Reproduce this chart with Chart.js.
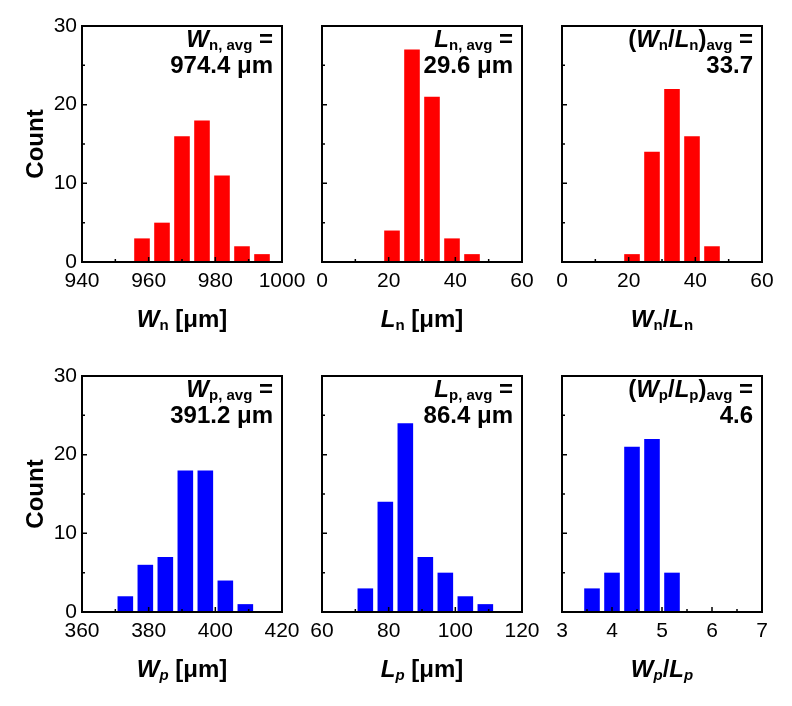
<!DOCTYPE html>
<html>
<head>
<meta charset="utf-8">
<script src="https://cdn.jsdelivr.net/npm/chart.js@4.4.0/dist/chart.umd.min.js"></script>
<style>
  body { margin: 0; background: #fff; }
  #wrap { position: relative; width: 792px; height: 706px; }
  #wrap canvas { position: absolute; left: 0; top: 0; }
</style>
</head>
<body>
<div id="wrap">
  <canvas id="c1" width="792" height="706"></canvas>
  <canvas id="c2" width="792" height="706"></canvas>
  <canvas id="c3" width="792" height="706"></canvas>
  <canvas id="c4" width="792" height="706"></canvas>
  <canvas id="c5" width="792" height="706"></canvas>
  <canvas id="c6" width="792" height="706"></canvas>
</div>
<script>
// bin centres and counts
const wnBins = [958, 964, 970, 976, 982, 988, 994];
const wnCounts = [3, 5, 16, 18, 11, 2, 1];
const lnBins = [21, 27, 33, 39, 45];
const lnCounts = [4, 27, 21, 3, 1];
const wlnBins = [21, 27, 33, 39, 45];
const wlnCounts = [1, 14, 22, 16, 2];
const wpBins = [373, 379, 385, 391, 397, 403, 409];
const wpCounts = [2, 6, 7, 18, 18, 4, 1];
const lpBins = [73, 79, 85, 91, 97, 103, 109];
const lpCounts = [3, 14, 24, 7, 5, 2, 1];
const wlpBins = [3.6, 4.0, 4.4, 4.8, 5.2];
const wlpCounts = [3, 5, 21, 22, 5];

// axis ranges: min, max, step
const wnRange = [940, 1000, 20];
const lnRange = [0, 60, 20];
const wlnRange = [0, 60, 20];
const wpRange = [360, 420, 20];
const lpRange = [60, 120, 20];
const wlpRange = [3, 7, 1];
const countRange = [0, 30, 10];

const RED = '#ff0000';
const BLUE = '#0000ff';
const FAMILY = '"Liberation Sans", Arial, sans-serif';
const FONTS = {
  b: 'bold 24px ' + FAMILY,
  bi: 'italic bold 24px ' + FAMILY,
  s: 'bold 15px ' + FAMILY,
  si: 'italic bold 15px ' + FAMILY
};
const Y_AXIS_W = 60;  // room kept for the count labels
const X_AXIS_H = 40;  // room kept for the x labels

// draw a run of mixed-style text pieces
function drawRich(ctx, parts, x, y, align) {
  let total = 0;
  parts.forEach(p => { ctx.font = FONTS[p[1]]; total += ctx.measureText(p[0]).width; });
  let cx = x;
  if (align === 'right') cx = x - total;
  if (align === 'center') cx = x - total / 2;
  ctx.textAlign = 'left';
  ctx.textBaseline = 'alphabetic';
  parts.forEach(p => {
    ctx.font = FONTS[p[1]];
    const dy = p[1][0] === 's' ? 3 : 0;
    ctx.fillText(p[0], cx, y + dy);
    cx += ctx.measureText(p[0]).width;
  });
}

// frame, inward ticks and texts for one panel
const panelPlugin = {
  id: 'panel',
  afterDatasetsDraw(chart, args, opts) {
    const { ctx, chartArea: a, scales: { x, y } } = chart;
    ctx.save();
    ctx.strokeStyle = '#000';
    ctx.lineWidth = 2;
    ctx.strokeRect(a.left, a.top, a.right - a.left, a.bottom - a.top);

    ctx.lineWidth = 1.5;
    ctx.beginPath();
    const xv = x.ticks.map(t => t.value);
    const xstep = xv[1] - xv[0];
    xv.forEach((v, i) => {
      const px = x.getPixelForValue(v);
      ctx.moveTo(px, a.bottom); ctx.lineTo(px, a.bottom - 5);
      if (i < xv.length - 1) {
        const mx = x.getPixelForValue(v + xstep / 2);
        ctx.moveTo(mx, a.bottom); ctx.lineTo(mx, a.bottom - 3);
      }
    });
    const yv = y.ticks.map(t => t.value);
    const ystep = yv[1] - yv[0];
    yv.forEach((v, i) => {
      const py = y.getPixelForValue(v);
      ctx.moveTo(a.left, py); ctx.lineTo(a.left + 5, py);
      if (i < yv.length - 1) {
        const my = y.getPixelForValue(v + ystep / 2);
        ctx.moveTo(a.left, my); ctx.lineTo(a.left + 3, my);
      }
    });
    ctx.stroke();

    ctx.fillStyle = '#000';
    drawRich(ctx, opts.note1, a.right - 9, a.top + 21, 'right');
    drawRich(ctx, opts.note2, a.right - 9, a.top + 47, 'right');
    drawRich(ctx, opts.title, (a.left + a.right) / 2, a.bottom + 65, 'center');

    if (opts.showCount) {
      ctx.translate(a.left - 46, (a.top + a.bottom) / 2);
      ctx.rotate(-Math.PI / 2);
      ctx.font = FONTS.b;
      ctx.textAlign = 'center';
      ctx.textBaseline = 'middle';
      ctx.fillText('Count', 0, 0);
    }
    ctx.restore();
  }
};

const panels = [
  { id: 'c1', bins: wnBins, counts: wnCounts, range: wnRange, color: RED, box: [82, 26, 282, 262], showY: true,
    note1: [['W', 'bi'], ['n, avg', 's'], [' =', 'b']], note2: [['974.4 \u03bcm', 'b']],
    title: [['W', 'bi'], ['n', 's'], [' [\u03bcm]', 'b']] },
  { id: 'c2', bins: lnBins, counts: lnCounts, range: lnRange, color: RED, box: [322, 26, 522, 262], showY: false,
    note1: [['L', 'bi'], ['n, avg', 's'], [' =', 'b']], note2: [['29.6 \u03bcm', 'b']],
    title: [['L', 'bi'], ['n', 's'], [' [\u03bcm]', 'b']] },
  { id: 'c3', bins: wlnBins, counts: wlnCounts, range: wlnRange, color: RED, box: [562, 26, 762, 262], showY: false,
    note1: [['(', 'b'], ['W', 'bi'], ['n', 's'], ['/', 'b'], ['L', 'bi'], ['n', 's'], [')', 'b'], ['avg', 's'], [' =', 'b']],
    note2: [['33.7', 'b']],
    title: [['W', 'bi'], ['n', 's'], ['/', 'b'], ['L', 'bi'], ['n', 's']] },
  { id: 'c4', bins: wpBins, counts: wpCounts, range: wpRange, color: BLUE, box: [82, 376, 282, 612], showY: true,
    note1: [['W', 'bi'], ['p, avg', 's'], [' =', 'b']], note2: [['391.2 \u03bcm', 'b']],
    title: [['W', 'bi'], ['p', 'si'], [' [\u03bcm]', 'b']] },
  { id: 'c5', bins: lpBins, counts: lpCounts, range: lpRange, color: BLUE, box: [322, 376, 522, 612], showY: false,
    note1: [['L', 'bi'], ['p, avg', 's'], [' =', 'b']], note2: [['86.4 \u03bcm', 'b']],
    title: [['L', 'bi'], ['p', 'si'], [' [\u03bcm]', 'b']] },
  { id: 'c6', bins: wlpBins, counts: wlpCounts, range: wlpRange, color: BLUE, box: [562, 376, 762, 612], showY: false,
    note1: [['(', 'b'], ['W', 'bi'], ['p', 's'], ['/', 'b'], ['L', 'bi'], ['p', 's'], [')', 'b'], ['avg', 's'], [' =', 'b']],
    note2: [['4.6', 'b']],
    title: [['W', 'bi'], ['p', 'si'], ['/', 'b'], ['L', 'bi'], ['p', 'si']] }
];

const tickFont = { family: FAMILY, size: 21 };

panels.forEach(p => {
  new Chart(document.getElementById(p.id), {
    type: 'bar',
    data: {
      datasets: [{
        data: p.bins.map((b, i) => ({ x: b, y: p.counts[i] })),
        backgroundColor: p.color,
        borderWidth: 0,
        barPercentage: 1,
        categoryPercentage: 0.78
      }]
    },
    options: {
      responsive: false,
      animation: false,
      devicePixelRatio: 1,
      layout: {
        padding: {
          left: p.box[0] - Y_AXIS_W,
          top: p.box[1],
          right: 792 - p.box[2],
          bottom: 706 - p.box[3] - X_AXIS_H
        }
      },
      plugins: {
        legend: { display: false },
        tooltip: { enabled: false },
        panel: { note1: p.note1, note2: p.note2, title: p.title, showCount: p.showY }
      },
      scales: {
        x: {
          type: 'linear', offset: false,
          min: p.range[0], max: p.range[1],
          ticks: {
            stepSize: p.range[2], font: tickFont, color: '#000', padding: 7,
            maxRotation: 0, autoSkip: false,
            callback: v => String(v)
          },
          grid: { display: false, drawTicks: false },
          border: { display: false },
          afterFit: s => { s.height = X_AXIS_H; }
        },
        y: {
          min: countRange[0], max: countRange[1],
          ticks: { stepSize: countRange[2], display: p.showY, font: tickFont, color: '#000', padding: 5 },
          grid: { display: false, drawTicks: false },
          border: { display: false },
          afterFit: s => { s.width = Y_AXIS_W; }
        }
      }
    },
    plugins: [panelPlugin]
  });
});
</script>
</body>
</html>
